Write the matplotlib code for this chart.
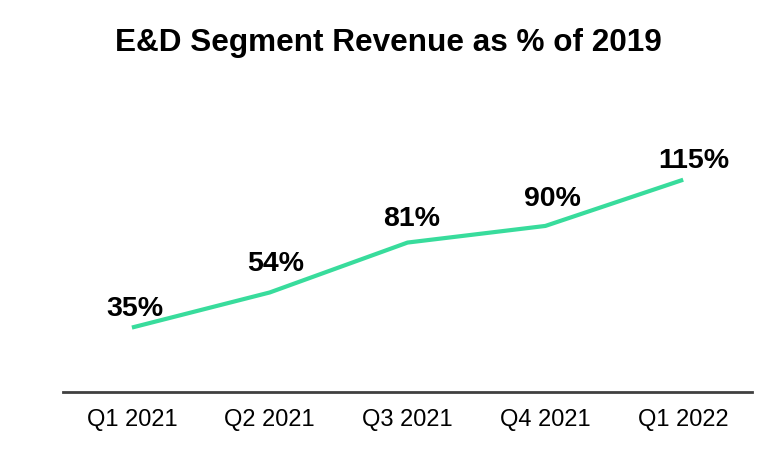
import matplotlib
matplotlib.use("Agg")
import matplotlib.pyplot as plt

# data
quarters = ["Q1 2021", "Q2 2021", "Q3 2021", "Q4 2021", "Q1 2022"]
pct_of_2019 = [35, 54, 81, 90, 115]
labels = ["35%", "54%", "81%", "90%", "115%"]

plt.rcParams['font.family'] = ['Liberation Sans', 'DejaVu Sans']

fig = plt.figure(figsize=(7.76, 4.52), dpi=100)
ax = fig.add_axes([0.0812, 0.130, 0.888, 0.556])

x = list(range(len(quarters)))
ax.plot(x, pct_of_2019, color='#38dc9c', linewidth=3, solid_capstyle='butt')

# label offsets in points, placed by hand like in the original
offs = [(2.5, 5), (4, 11.5), (3, 8.6), (5.4, 10.8), (7.6, 5)]
for xi, v, lab, o in zip(x, pct_of_2019, labels, offs):
    ax.annotate(lab, (xi, v), xytext=o, textcoords='offset points',
                ha='center', va='bottom', fontsize=20.5, fontweight='bold')

ax.set_xlim(-0.5, 4.5)
ax.set_ylim(0, 136)
ax.set_xticks(x)
ax.set_xticklabels(quarters, fontsize=17)
ax.tick_params(axis='x', length=0, pad=11)
ax.set_yticks([])
for s in ['top', 'right', 'left']:
    ax.spines[s].set_visible(False)
ax.spines['bottom'].set_color('#404040')
ax.spines['bottom'].set_linewidth(2)

fig.text(0.5, 0.905, "E&D Segment Revenue as % of 2019", ha='center', va='center',
         fontsize=22.7, fontweight='bold')

fig.savefig("out.png", dpi=100)
